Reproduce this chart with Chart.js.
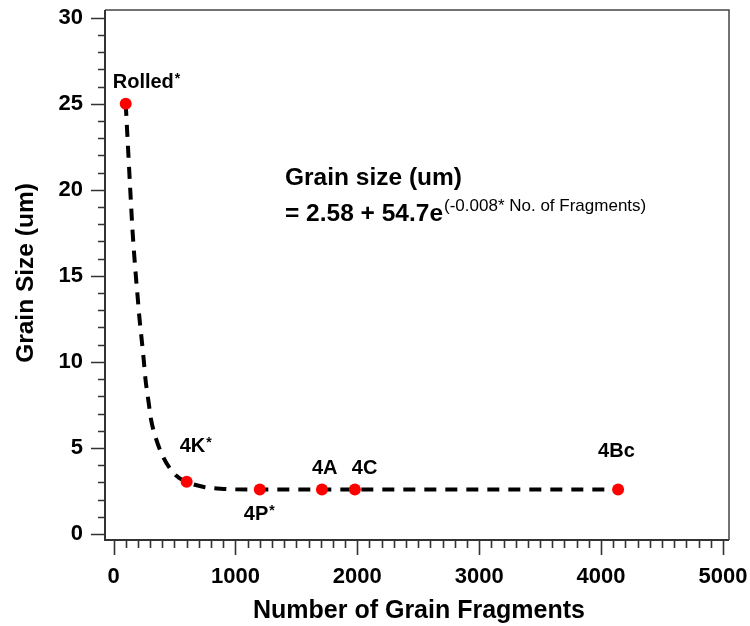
<!DOCTYPE html>
<html><head><meta charset="utf-8">
<script src="https://cdn.jsdelivr.net/npm/chart.js@4/dist/chart.umd.min.js"></script>
<style>html,body{margin:0;padding:0;background:#fff}#wrap{width:750px;height:626px}</style>
</head><body><div id="wrap"><canvas id="c" width="750" height="626"></canvas></div>
<script>
// ---- data ----
const sampleNames = ['Rolled*', '4K*', '4P*', '4A', '4C', '4Bc'];
const fragments   = [100, 600, 1200, 1710, 1980, 4140];
const grainSize   = [25, 3.03, 2.58, 2.58, 2.58, 2.58];
// fitted curve
const fitX = [100, 120, 138, 157, 182, 200, 212, 231, 248, 262, 286, 308, 346, 409, 505, 600, 750, 900, 1200, 4140];
const fitY = [25, 22.3, 19.9, 17.5, 15.1, 13.6, 12.6, 11.3, 10.1, 9.0, 7.75, 6.65, 5.6, 4.45, 3.45, 3.03, 2.72, 2.62, 2.58, 2.58];
const xTickLabels = [0, 1000, 2000, 3000, 4000, 5000];
const yTickLabels = [0, 5, 10, 15, 20, 25, 30];
const xTitle = 'Number of Grain Fragments';
const yTitle = 'Grain Size (um)';
const eqLine1 = 'Grain size (um)';
const eqLine2 = '= 2.58 + 54.7e';
const eqExp = '(-0.008* No. of Fragments)';

// ---- layout (label offsets in px: left edge dx, baseline dy from the point) ----
const labelOffsets = [[-13, -16], [-7, -30], [-16, 30], [-10, -16], [-3, -16], [-20, -33]];
const FONT = "'Liberation Sans', Arial, sans-serif";

const decor = {
  id: 'decor',
  afterDatasetsDraw(chart) {
    const ctx = chart.ctx, a = chart.chartArea;
    const xs = chart.scales.x, ys = chart.scales.y;
    ctx.save();
    // frame
    ctx.strokeStyle = '#444'; ctx.lineWidth = 1.5;
    ctx.beginPath();
    ctx.moveTo(a.left, a.top); ctx.lineTo(a.right, a.top); ctx.lineTo(a.right, a.bottom);
    ctx.stroke();
    ctx.strokeStyle = '#333'; ctx.lineWidth = 2;
    ctx.beginPath();
    ctx.moveTo(a.left, a.top); ctx.lineTo(a.left, a.bottom); ctx.lineTo(a.right, a.bottom);
    ctx.stroke();
    // ticks
    ctx.lineWidth = 1.6; ctx.strokeStyle = '#333';
    ctx.beginPath();
    for (let v = 0; v <= 5000; v += 100) {
      const px = Math.round(xs.getPixelForValue(v)) + 0.5;
      const len = (v % 1000 === 0) ? 15 : 8;
      ctx.moveTo(px, a.bottom); ctx.lineTo(px, a.bottom + len);
    }
    for (let v = 0; v <= 30; v += 1) {
      const py = Math.round(ys.getPixelForValue(v)) + 0.5;
      const len = (v % 5 === 0) ? 14 : 7;
      ctx.moveTo(a.left, py); ctx.lineTo(a.left - len, py);
    }
    ctx.stroke();
    // axis titles
    ctx.fillStyle = '#000';
    ctx.font = 'bold 25px ' + FONT;
    ctx.textAlign = 'center'; ctx.textBaseline = 'alphabetic';
    ctx.fillText(xTitle, 419, 618);
    ctx.save();
    ctx.translate(33, 273); ctx.rotate(-Math.PI / 2);
    ctx.font = 'bold 24.5px ' + FONT;
    ctx.fillText(yTitle, 0, 0);
    ctx.restore();
    // point labels
    const meta = chart.getDatasetMeta(0);
    ctx.textAlign = 'left';
    meta.data.forEach((pt, i) => {
      const name = sampleNames[i];
      const main = name.replace('*', '');
      const star = name.includes('*');
      const x0 = pt.x + labelOffsets[i][0], y0 = pt.y + labelOffsets[i][1];
      ctx.font = 'bold 20px ' + FONT;
      ctx.fillText(main, x0, y0);
      if (star) {
        const w = ctx.measureText(main).width;
        ctx.font = 'bold 14px ' + FONT;
        ctx.fillText('*', x0 + w + 1, y0 - 5);
      }
    });
    // equation
    const ex = xs.getPixelForValue(1407);
    ctx.font = 'bold 24.5px ' + FONT;
    ctx.fillText(eqLine1, ex, 185);
    ctx.fillText(eqLine2, ex, 221);
    const w2 = ctx.measureText(eqLine2).width;
    ctx.font = '17px ' + FONT;
    ctx.fillText(eqExp, ex + w2 + 1, 211);
    ctx.restore();
  }
};

new Chart(document.getElementById('c'), {
  type: 'scatter',
  data: {
    datasets: [
      {
        label: 'samples',
        data: fragments.map((x, i) => ({ x, y: grainSize[i] })),
        pointRadius: 6, pointHoverRadius: 6,
        pointBackgroundColor: '#ff0000', pointBorderColor: '#ff0000', pointBorderWidth: 0,
        showLine: false, order: 0
      },
      {
        label: 'fit',
        data: fitX.map((x, i) => ({ x, y: fitY[i] })),
        showLine: true, borderColor: '#000', borderWidth: 4,
        borderDash: [12, 9], pointRadius: 0, cubicInterpolationMode: 'monotone',
        order: 1
      }
    ]
  },
  options: {
    responsive: false, animation: false, devicePixelRatio: 1,
    layout: { padding: { left: 0, right: 21, top: 10, bottom: 0 } },
    plugins: { legend: { display: false }, tooltip: { enabled: false } },
    scales: {
      x: {
        type: 'linear', min: -70, max: 5050,
        afterFit: s => { s.height = 86; s.paddingLeft = 0; s.paddingRight = 0; },
        afterBuildTicks: s => { s.ticks = xTickLabels.map(v => ({ value: v })); },
        grid: { display: false, drawTicks: false }, border: { display: false },
        ticks: { padding: 24, color: '#000', font: { family: FONT, size: 22, weight: 'bold' }, maxRotation: 0, autoSkip: false,
                 callback: v => String(v) }
      },
      y: {
        type: 'linear', min: -0.35, max: 30.45,
        afterFit: s => { s.width = 105; s.paddingTop = 0; s.paddingBottom = 0; },
        afterBuildTicks: s => { s.ticks = yTickLabels.map(v => ({ value: v })); },
        grid: { display: false, drawTicks: false }, border: { display: false },
        ticks: { padding: 22, color: '#000', font: { family: FONT, size: 22, weight: 'bold' }, autoSkip: false,
                 callback: v => String(v) }
      }
    }
  },
  plugins: [decor]
});
</script>
</body></html>
